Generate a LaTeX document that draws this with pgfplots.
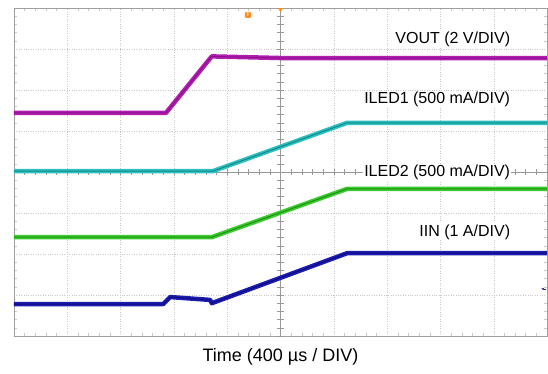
\documentclass[border=0pt]{standalone}
\usepackage{pgfplots}
\pgfplotsset{compat=1.18}
\usetikzlibrary{arrows.meta}
\usepackage{fontspec}
\setmainfont{Liberation Sans}
\definecolor{voutc}{HTML}{B01EB0}
\definecolor{voutd}{HTML}{8E108E}
\definecolor{iled1c}{HTML}{2EC0C0}
\definecolor{iled1d}{HTML}{128888}
\definecolor{iled2c}{HTML}{3CCB2E}
\definecolor{iled2d}{HTML}{1E8E18}
\definecolor{iinc}{HTML}{1C1CB0}
\definecolor{iind}{HTML}{0C0C80}
\definecolor{gridc}{HTML}{C8C8C8}
\begin{document}
\begin{tikzpicture}[x=1pt,y=1pt]
\useasboundingbox (0,0) rectangle (548,373);
\begin{axis}[
  at={(14pt,37pt)}, anchor=south west,
  scale only axis, width=533pt, height=328pt,
  xmin=0, xmax=10, ymin=0, ymax=8,
  xtick={0,...,10}, ytick={0,...,8},
  xticklabels={}, yticklabels={},
  minor x tick num=4, minor y tick num=4,
  major tick length=0pt, minor tick length=3pt,
  tick style={gridc, thin},
  grid=major,
  major grid style={gridc, dotted, thin},
  axis line style={gray!75, thin},
  clip=false,
  extra x ticks={5}, extra y ticks={4},
  extra x tick labels={}, extra y tick labels={},
  extra tick style={grid=major, major grid style={gray!80, thin, solid}},
]
\pgfplotsinvokeforeach{0,0.2,...,10}{\draw[gray!80, thin] (axis cs:#1,3.93) -- (axis cs:#1,4.07);}
\pgfplotsinvokeforeach{0,0.2,...,8}{\draw[gray!80, thin] (axis cs:4.94,#1) -- (axis cs:5.06,#1);}
% VOUT
\addplot[voutc, line width=4.5pt, line join=round] coordinates {(0,5.44) (2.85,5.44) (3.71,6.82) (5,6.78) (10,6.78)};
\addplot[voutd, line width=1pt] coordinates {(0,5.44) (2.85,5.44) (3.71,6.82) (5,6.78) (10,6.78)};
% ILED1
\addplot[iled1c, line width=4.5pt, line join=round] coordinates {(0,4.02) (3.73,4.02) (6.25,5.20) (10,5.20)};
\addplot[iled1d, line width=1pt] coordinates {(0,4.02) (3.73,4.02) (6.25,5.20) (10,5.20)};
% ILED2
\addplot[iled2c, line width=4.5pt, line join=round] coordinates {(0,2.41) (3.71,2.41) (6.25,3.59) (10,3.59)};
\addplot[iled2d, line width=1pt] coordinates {(0,2.41) (3.71,2.41) (6.25,3.59) (10,3.59)};
% IIN
\addplot[iinc, line width=4.5pt, line join=round] coordinates {(0,0.78) (2.80,0.78) (2.93,0.95) (3.68,0.88) (3.71,0.80) (6.25,2.02) (10,2.02)};
\addplot[iind, line width=1pt] coordinates {(0,0.78) (2.80,0.78) (2.93,0.95) (3.68,0.88) (3.71,0.80) (6.25,2.02) (10,2.02)};
% labels
\node[anchor=east, fill=white, inner sep=1pt, font=\fontsize{16}{19}\selectfont] at (axis cs:9.33,7.24) {VOUT (2 V/DIV)};
\node[anchor=east, fill=white, inner sep=1pt, font=\fontsize{16}{19}\selectfont] at (axis cs:9.33,5.76) {ILED1 (500 mA/DIV)};
\node[anchor=east, fill=white, inner sep=1pt, font=\fontsize{16}{19}\selectfont] at (axis cs:9.33,3.98) {ILED2 (500 mA/DIV)};
\node[anchor=east, fill=white, inner sep=1pt, font=\fontsize{16}{19}\selectfont] at (axis cs:9.33,2.54) {IIN (1 A/DIV)};
% scope markers
\node[fill=orange!90, rounded corners=1pt, minimum size=6pt, inner sep=0pt, text=white, font=\fontsize{5}{5}\selectfont\bfseries] at (axis cs:4.39,7.83) {T};
\fill[orange!90] (axis cs:5,8) ++(-2.5pt,0) -- ++(5pt,0) -- ++(-2.5pt,-4pt) -- cycle;
\draw[iinc, thin, -{Latex[length=3pt]}] (axis cs:9.98,1.15) -- ++(-5pt,0);
% x label
\node[font=\fontsize{18}{21}\selectfont] at (axis cs:5,-0.51) {Time (400 µs / DIV)};
\end{axis}
\end{tikzpicture}
\end{document}
